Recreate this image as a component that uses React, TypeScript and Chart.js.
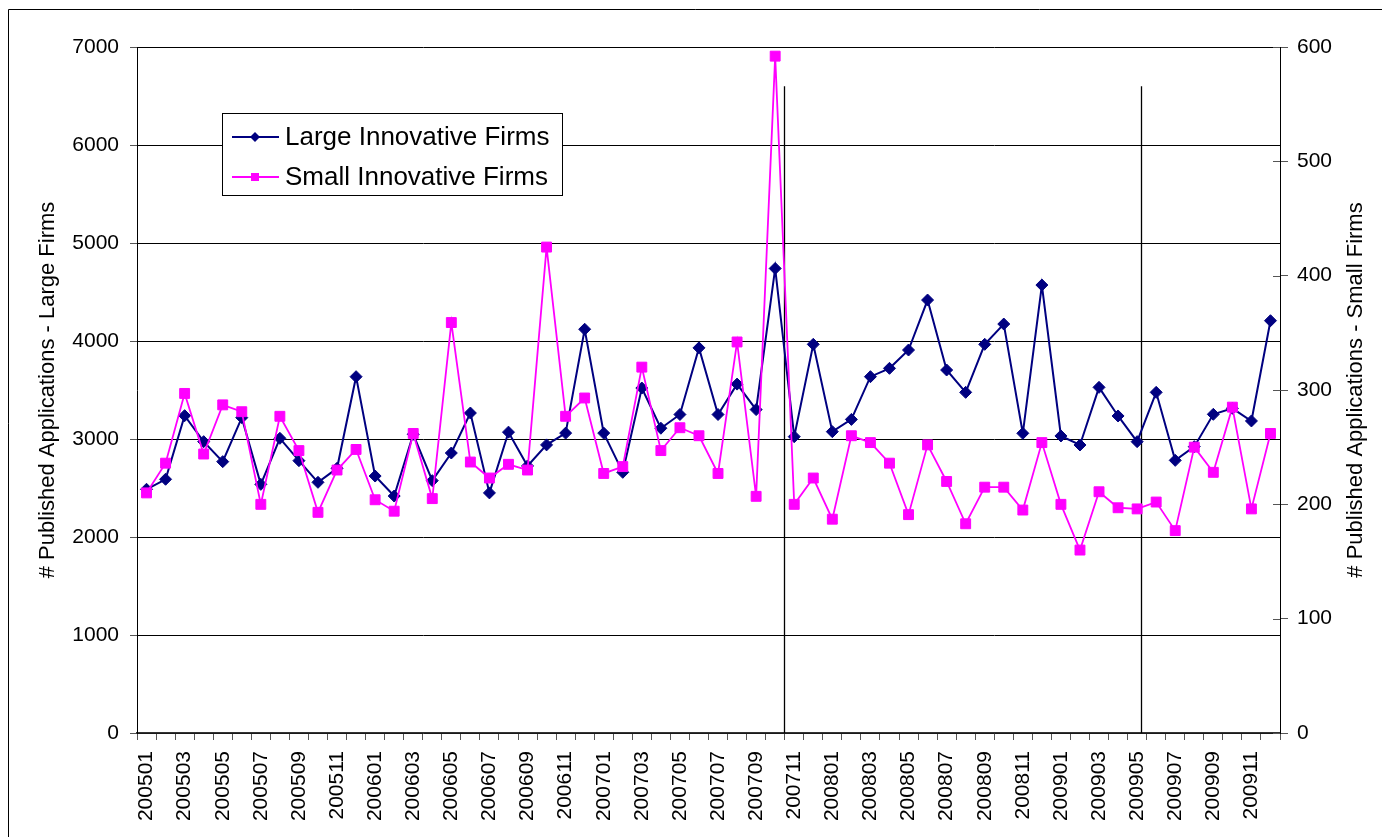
import React, { useEffect, useRef } from "react";
import { Chart, registerables } from "chart.js";

Chart.register(...registerables);

const months = [
  "200501","200502","200503","200504","200505","200506","200507","200508","200509","200510","200511","200512",
  "200601","200602","200603","200604","200605","200606","200607","200608","200609","200610","200611","200612",
  "200701","200702","200703","200704","200705","200706","200707","200708","200709","200710","200711","200712",
  "200801","200802","200803","200804","200805","200806","200807","200808","200809","200810","200811","200812",
  "200901","200902","200903","200904","200905","200906","200907","200908","200909","200910","200911","200912",
];

const largeFirms = [
  2487, 2589, 3238, 2973, 2769, 3218, 2537, 3007, 2779, 2558, 2701, 3636,
  2622, 2418, 3048, 2575, 2857, 3265, 2450, 3070, 2725, 2940, 3060, 4120,
  3060, 2660, 3520, 3110, 3250, 3930, 3250, 3560, 3300, 4740, 3024, 3966,
  3075, 3200, 3636, 3721, 3908, 4418, 3704, 3476, 3966, 4173, 3058, 4571,
  3031, 2939, 3527, 3235, 2973, 3476, 2782, 2922, 3252, 3313, 3184, 4207,
];

const smallFirms = [
  210, 236, 297, 244, 287, 281, 200, 277, 247, 193, 230, 248,
  204, 194, 262, 205, 359, 237, 223, 235, 230, 425, 277, 293,
  227, 233, 320, 247, 267, 260, 227, 342, 207, 592, 200, 223,
  187, 260, 254, 236, 191, 252, 220, 183, 215, 215, 195, 254,
  200, 160, 211, 197, 196, 202, 177, 250, 228, 285, 196, 262,
];

const seriesNames = ["Large Innovative Firms", "Small Innovative Firms"];
const seriesColors = ["#000080", "#FF00FF"];
const leftTitle = "# Published Applications - Large Firms";
const rightTitle = "# Published Applications - Small Firms";
// vertical separator lines, in category-index units, with top in left-axis units
const separatorPositions = [33.45, 52.22];
const separatorTop = 6600;

const FONT = "'Liberation Sans', Arial, sans-serif";

export default function App() {
  const ref = useRef<HTMLCanvasElement | null>(null);

  useEffect(() => {
    const canvas = ref.current;
    if (!canvas) return;

    const decorPlugin = {
      id: "decor",
      beforeDatasetsDraw(chart: any) {
        const ctx = chart.ctx;
        const x = chart.scales.x;
        const y = chart.scales.y;
        ctx.save();
        ctx.strokeStyle = "#000";
        ctx.lineWidth = 1.3;
        separatorPositions.forEach((p) => {
          const px = Math.round(x.getPixelForValue(p)) + 0.5;
          ctx.beginPath();
          ctx.moveTo(px, y.getPixelForValue(separatorTop));
          ctx.lineTo(px, y.getPixelForValue(0));
          ctx.stroke();
        });
        ctx.restore();
      },
      afterDraw(chart: any) {
        const ctx = chart.ctx;
        const area = chart.chartArea;
        const y2 = chart.scales.y2;
        ctx.save();
        // inner part of right-axis tick marks
        ctx.strokeStyle = "#555";
        ctx.lineWidth = 1;
        y2.ticks.forEach((t: any) => {
          const py = Math.round(y2.getPixelForValue(t.value)) + 0.5;
          ctx.beginPath();
          ctx.moveTo(area.right - 7, py);
          ctx.lineTo(area.right, py);
          ctx.stroke();
        });

        // axis titles
        ctx.fillStyle = "#000";
        ctx.font = `22px ${FONT}`;
        ctx.textAlign = "center";
        ctx.textBaseline = "middle";
        const cy = (area.top + area.bottom) / 2;
        ctx.save();
        ctx.translate(48, cy);
        ctx.rotate(-Math.PI / 2);
        ctx.fillText(leftTitle, 0, 0);
        ctx.restore();
        ctx.save();
        ctx.translate(1356, cy);
        ctx.rotate(-Math.PI / 2);
        ctx.fillText(rightTitle, 0, 0);
        ctx.restore();

        // legend
        const lx = area.left + 85;
        const ly = area.top + 66;
        const lw = 340;
        const lh = 82;
        ctx.fillStyle = "#fff";
        ctx.fillRect(lx, ly, lw, lh);
        ctx.strokeStyle = "#000";
        ctx.lineWidth = 1;
        ctx.strokeRect(lx + 0.5, ly + 0.5, lw, lh);
        seriesNames.forEach((name, i) => {
          const ry = ly + 24 + i * 40;
          ctx.strokeStyle = seriesColors[i];
          ctx.lineWidth = 2;
          ctx.beginPath();
          ctx.moveTo(lx + 10, ry);
          ctx.lineTo(lx + 57, ry);
          ctx.stroke();
          ctx.fillStyle = seriesColors[i];
          const mx = lx + 33;
          ctx.beginPath();
          if (i === 0) {
            ctx.moveTo(mx, ry - 5);
            ctx.lineTo(mx + 5, ry);
            ctx.lineTo(mx, ry + 5);
            ctx.lineTo(mx - 5, ry);
            ctx.closePath();
            ctx.fill();
          } else {
            ctx.fillRect(mx - 4, ry - 4, 8, 8);
          }
          ctx.fillStyle = "#000";
          ctx.font = `26px ${FONT}`;
          ctx.textAlign = "left";
          ctx.textBaseline = "middle";
          ctx.fillText(name, lx + 63, ry + 1);
        });

        // outer frame
        ctx.strokeStyle = "#000";
        ctx.lineWidth = 1;
        ctx.beginPath();
        ctx.moveTo(8.5, chart.height + 5);
        ctx.lineTo(8.5, 9.5);
        ctx.lineTo(chart.width + 5, 9.5);
        ctx.stroke();
        ctx.restore();
      },
    };

    const chart = new Chart(canvas, {
      type: "line",
      data: {
        labels: months,
        datasets: [
          {
            label: seriesNames[0],
            data: largeFirms,
            yAxisID: "y",
            borderColor: seriesColors[0],
            backgroundColor: seriesColors[0],
            borderWidth: 2,
            pointStyle: "rectRot",
            pointRadius: 6,
            pointBorderWidth: 1,
            tension: 0,
            order: 2,
          },
          {
            label: seriesNames[1],
            data: smallFirms,
            yAxisID: "y2",
            borderColor: seriesColors[1],
            backgroundColor: seriesColors[1],
            borderWidth: 1.8,
            pointStyle: "rect",
            pointRadius: 7,
            pointBorderWidth: 1,
            tension: 0,
            order: 1,
          },
        ],
      },
      options: {
        responsive: false,
        animation: false,
        devicePixelRatio: 1,
        layout: { padding: { top: 47, left: 0, right: 0, bottom: 0 } },
        plugins: {
          legend: { display: false },
          tooltip: { enabled: false },
          title: { display: false },
        },
        scales: {
          x: {
            type: "category",
            offset: true,
            afterFit: (s: any) => { s.height = 104; },
            grid: {
              display: true,
              offset: true,
              drawOnChartArea: false,
              drawTicks: true,
              tickLength: 7,
              tickColor: "#555",
            },
            border: { display: true, color: "#333", width: 1.5 },
            ticks: {
              autoSkip: false,
              maxRotation: 90,
              minRotation: 90,
              padding: 11,
              color: "#000",
              font: { family: FONT, size: 21 },
              callback: (_v: any, i: number) => (i % 2 === 0 ? months[i] : ""),
            },
          },
          y: {
            position: "left",
            min: 0,
            max: 7000,
            afterFit: (s: any) => { s.width = 137; },
            grid: {
              color: "#000",
              lineWidth: 1,
              drawTicks: true,
              tickLength: 7,
              tickColor: "#555",
            },
            border: { display: true, color: "#000", width: 1 },
            ticks: {
              stepSize: 1000,
              padding: 11,
              color: "#000",
              font: { family: FONT, size: 21 },
              callback: (v: any) => String(v),
            },
          },
          y2: {
            position: "right",
            min: 0,
            max: 600,
            afterFit: (s: any) => { s.width = 102; },
            grid: {
              drawOnChartArea: false,
              drawTicks: true,
              tickLength: 8,
              tickColor: "#555",
            },
            border: { display: true, color: "#000", width: 1 },
            ticks: {
              stepSize: 100,
              padding: 9,
              color: "#000",
              font: { family: FONT, size: 21 },
              callback: (v: any) => String(v),
            },
          },
        },
      },
      plugins: [decorPlugin],
    } as any);

    return () => chart.destroy();
  }, []);

  return (
    <div style={{ position: "absolute", left: 0, top: 0, width: 1382, height: 837, background: "#fff" }}>
      <canvas ref={ref} width={1382} height={837} style={{ display: "block" }} />
    </div>
  );
}
